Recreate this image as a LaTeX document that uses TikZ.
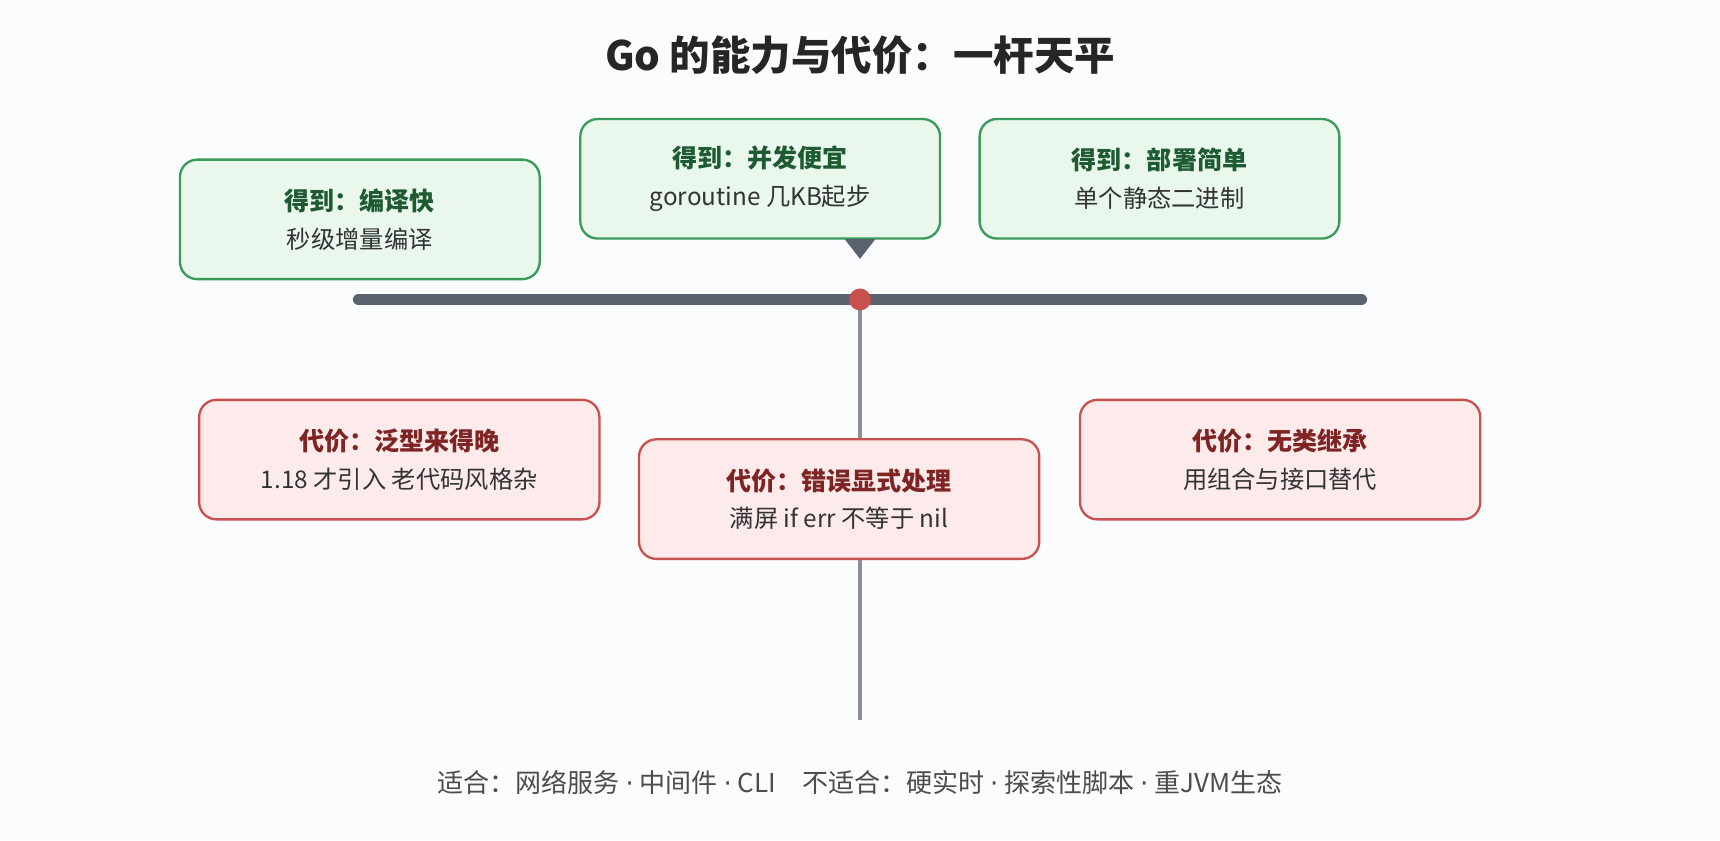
\documentclass[tikz,border=0pt]{standalone}
\usepackage{fontspec}
\setmainfont{Noto Sans CJK SC}
\newfontfamily\latindot{DejaVu Sans}
\usetikzlibrary{positioning}
\definecolor{gainfill}{HTML}{E9F7EC}
\definecolor{gaindraw}{HTML}{3A9A5A}
\definecolor{gaintext}{HTML}{1E5A32}
\definecolor{costfill}{HTML}{FDEBEB}
\definecolor{costdraw}{HTML}{C8504E}
\definecolor{costtext}{HTML}{7F2424}
\definecolor{beam}{HTML}{5A6270}
\definecolor{post}{HTML}{8A909A}
\definecolor{bg}{HTML}{FBFCFE}
\newcommand{\sep}{ {\latindot ·} }
\begin{document}
\begin{tikzpicture}[x=0.02cm,y=-0.02cm,
  box/.style={rounded corners=9pt,line width=1.2pt,minimum width=6.56cm,minimum height=2.18cm,align=center,font=\fontsize{12.6}{19.5}\selectfont,text=black!80},
  gain/.style={box,fill=gainfill,draw=gaindraw},
  cost/.style={box,fill=costfill,draw=costdraw,minimum width=7.3cm}]
  \fill[bg] (0,0) rectangle (1568,766);
  \node (title) at (784,50) {\fontsize{21}{24}\selectfont\bfseries\color{black!85}Go 的能力与代价：一杆天平};
  % gains
  \node (compile) [gain] at (328,200) {{\color{gaintext}\bfseries\fontsize{13}{19.5}\selectfont 得到：编译快}\\秒级增量编译};
  \node (conc) [gain] at (693,163) {{\color{gaintext}\bfseries\fontsize{13}{19.5}\selectfont 得到：并发便宜}\\goroutine 几KB起步};
  \node (deploy) [gain] at (1057,163) {{\color{gaintext}\bfseries\fontsize{13}{19.5}\selectfont 得到：部署简单}\\单个静态二进制};
  % beam and post
  \coordinate (bl) at (327,273);
  \coordinate (br) at (1241,273);
  \coordinate (pivot) at (784,273);
  \coordinate (foot) at (784,656);
  \draw[post,line width=1.7pt] (pivot) -- (foot);
  \draw[beam,line width=6pt,line cap=round] (bl) -- (br);
  \fill[costdraw] (pivot) circle (10);
  \fill[beam] (770,218) -- (798,218) -- (784,236) -- cycle;
  % costs
  \node (generic) [cost] at (364,419) {{\color{costtext}\bfseries\fontsize{13}{19.5}\selectfont 代价：泛型来得晚}\\1.18 才引入 老代码风格杂};
  \node (errors) [cost] at (765,455) {{\color{costtext}\bfseries\fontsize{13}{19.5}\selectfont 代价：错误显式处理}\\满屏 if err 不等于 nil};
  \node (inherit) [cost] at (1167,419) {{\color{costtext}\bfseries\fontsize{13}{19.5}\selectfont 代价：无类继承}\\用组合与接口替代};
  \node (fit) at (784,713) {\fontsize{13.5}{16}\selectfont\color{black!70}适合：网络服务\sep 中间件\sep CLI\quad 不适合：硬实时\sep 探索性脚本\sep 重JVM生态};
\end{tikzpicture}
\end{document}
